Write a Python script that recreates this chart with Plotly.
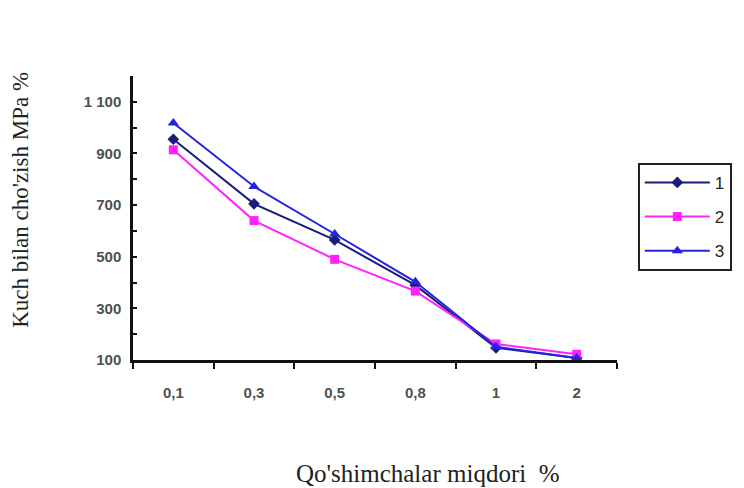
import plotly.graph_objects as go

categories = ["0,1", "0,3", "0,5", "0,8", "1", "2"]
series1 = [955, 705, 565, 390, 147, 108]
series2 = [914, 640, 490, 367, 162, 122]
series3 = [1018, 772, 588, 403, 151, 108]
names = ["1", "2", "3"]
ytick_vals = [100, 300, 500, 700, 900, 1100]
ytick_text = ["100", "300", "500", "700", "900", "1 100"]

fig = go.Figure()
fig.add_trace(go.Scatter(x=categories, y=series1, name=names[0], mode="lines+markers",
                         legendgroup="g1",
                         line=dict(color="#1b1b78", width=2),
                         marker=dict(symbol="diamond", size=9, color="#1b1b78")))
fig.add_trace(go.Scatter(x=categories, y=series2, name=names[1], mode="lines+markers",
                         legendgroup="g2",
                         line=dict(color="#ff22ff", width=2),
                         marker=dict(symbol="square", size=9, color="#ff22ff")))
fig.add_trace(go.Scatter(x=categories, y=series3, name=names[2], mode="lines+markers",
                         legendgroup="g3",
                         line=dict(color="#2424e0", width=2),
                         marker=dict(symbol="triangle-up", size=10, color="#2424e0")))

tickfont = dict(family="Arial, Liberation Sans, sans-serif", size=15, color="#505050",
                weight="bold")

fig.update_layout(
    width=744, height=488,
    margin=dict(l=125, r=135, t=68, b=136),
    paper_bgcolor="white", plot_bgcolor="white",
    showlegend=True,
    legend=dict(x=1.043, y=0.694, xanchor="left", yanchor="top",
                bordercolor="#222222", borderwidth=2,
                font=dict(family="Arial, Liberation Sans, sans-serif", size=17, color="#222222"),
                itemwidth=65, tracegroupgap=9, traceorder="grouped"),
    xaxis=dict(type="category", tickson="boundaries", ticks="outside", ticklen=6,
               tickwidth=2, tickcolor="#111111",
               showline=True, linecolor="#111111", linewidth=2.5,
               showgrid=False, zeroline=False, tickfont=tickfont,
               range=[-0.5, 5.5], ticklabelstandoff=17),
    yaxis=dict(range=[100, 1200], tickvals=ytick_vals, ticktext=ytick_text,
               ticks="inside", ticklen=4, tickwidth=2, tickcolor="#111111",
               minor=dict(dtick=100, tick0=100, ticks="inside", ticklen=4, tickwidth=2, tickcolor="#111111"),
               showline=True, linecolor="#111111", linewidth=2.5,
               showgrid=False, zeroline=False, tickfont=tickfont, ticklabelstandoff=6),
    annotations=[
        dict(text="Kuch bilan cho'zish MPa %", xref="paper", yref="paper",
             x=-0.233, y=0.565, textangle=-90, showarrow=False,
             xanchor="center", yanchor="middle",
             font=dict(family="Liberation Serif, Times New Roman, serif", size=23, color="#222222")),
        dict(text="Qo'shimchalar miqdori  %", xref="paper", yref="paper",
             x=0.608, y=-0.398, showarrow=False, xanchor="center", yanchor="middle",
             font=dict(family="Liberation Serif, Times New Roman, serif", size=25, color="#222222")),
    ],
)

fig.write_html("out.html")
